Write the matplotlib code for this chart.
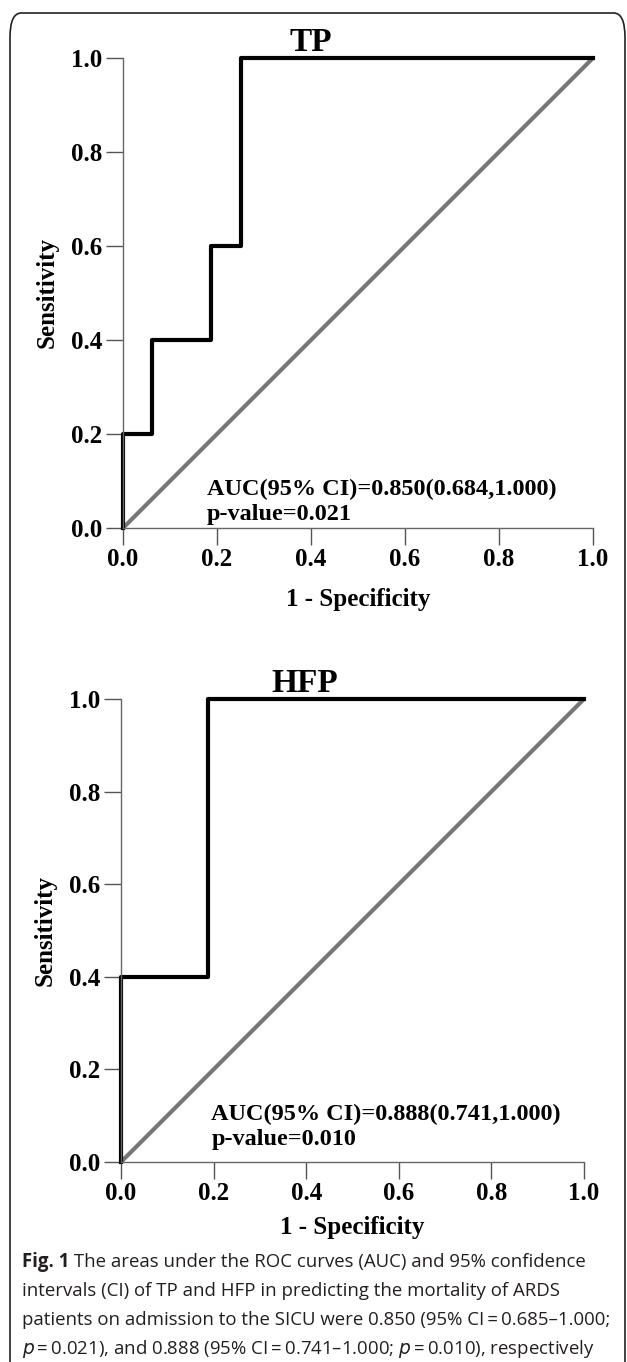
import matplotlib
matplotlib.use("Agg")
import matplotlib.pyplot as plt
from matplotlib.patches import FancyBboxPatch

# datos de las curvas ROC
tp_fpr = [0.0, 0.0, 0.0625, 0.0625, 0.1875, 0.1875, 0.25, 0.25, 1.0]
tp_tpr = [0.0, 0.2, 0.2, 0.4, 0.4, 0.6, 0.6, 1.0, 1.0]
hfp_fpr = [0.0, 0.0, 0.1875, 0.1875, 1.0]
hfp_tpr = [0.0, 0.4, 0.4, 1.0, 1.0]
ref_line = [0.0, 1.0]
ticks = [0.0, 0.2, 0.4, 0.6, 0.8, 1.0]
tick_labels = ["0.0", "0.2", "0.4", "0.6", "0.8", "1.0"]
titulos = ["TP", "HFP"]
auc_txt = ["AUC(95% CI)=0.850(0.684,1.000)", "AUC(95% CI)=0.888(0.741,1.000)"]
p_txt = ["p-value=0.021", "p-value=0.010"]

W, H = 627, 1362
fig = plt.figure(figsize=(W / 100, H / 100), dpi=100)

# marco redondeado
marco = FancyBboxPatch((10 / W, -0.05), 615 / W, 1.0 - 13 / H + 0.05,
                       boxstyle="round,pad=0,rounding_size=0.018",
                       transform=fig.transFigure, fill=False,
                       edgecolor="#222222", linewidth=1.2)
fig.patches.append(marco)

serif = "Liberation Serif"
# [izq, abajo, ancho, alto] en pixeles -> fraccion
posiciones_px = [(123, 528, 470, 470), (121, 1162, 463, 463)]
curvas = [(tp_fpr, tp_tpr), (hfp_fpr, hfp_tpr)]
titulo_x = [0.40, 0.396]
titulo_pad = [1, 0]
xlabel_pad = [12, 8]
texto_pos = [(0.179, 0.070, 0.017), (0.195, 0.090, 0.037)]

for i in range(2):
    l, b, w, h = posiciones_px[i]
    ax = fig.add_axes([l / W, 1 - b / H, w / W, h / H])
    ax.plot(ref_line, ref_line, color="#777777", linewidth=3, solid_capstyle="butt", clip_on=False)
    ax.plot(curvas[i][0], curvas[i][1], color="black", linewidth=3, clip_on=False)
    ax.set_xlim(0, 1)
    ax.set_ylim(0, 1)
    ax.spines["top"].set_visible(False)
    ax.spines["right"].set_visible(False)
    for s in ["left", "bottom"]:
        ax.spines[s].set_color("#666666")
        ax.spines[s].set_linewidth(1)
    ax.set_xticks(ticks)
    ax.set_yticks(ticks)
    ax.set_xticklabels(tick_labels, fontfamily=serif, fontweight="bold", fontsize=18)
    ax.set_yticklabels(tick_labels, fontfamily=serif, fontweight="bold", fontsize=18)
    ax.tick_params(axis="both", direction="out", color="#555555", width=1, length=12)
    ax.tick_params(axis="x", pad=2.5)
    ax.tick_params(axis="y", pad=3)
    ax.set_xlabel("1 - Specificity", fontfamily=serif, fontweight="bold", fontsize=18,
                  labelpad=xlabel_pad[i])
    ax.set_ylabel("Sensitivity", fontfamily=serif, fontweight="bold", fontsize=18, labelpad=9)
    ax.set_title(titulos[i], fontfamily=serif, fontweight="bold", fontsize=24,
                 x=titulo_x[i], pad=titulo_pad[i])
    tx, ty1, ty2 = texto_pos[i]
    ax.text(tx, ty1, auc_txt[i], fontfamily=serif, fontweight="bold", fontsize=17.5,
            transform=ax.transAxes, va="baseline")
    ax.text(tx, ty2, p_txt[i], fontfamily=serif, fontweight="bold", fontsize=17.5,
            transform=ax.transAxes, va="baseline")

# pie de figura
caption = [
    [("Fig. 1", "bold"), (" The areas under the ROC curves (AUC) and 95% confidence", "normal")],
    [("intervals (CI) of TP and HFP in predicting the mortality of ARDS", "normal")],
    [("patients on admission to the SICU were 0.850 (95% CI\u2009=\u20090.685\u20131.000;", "normal")],
    [("$p$\u2009=\u20090.021), and 0.888 (95% CI\u2009=\u20090.741\u20131.000; $p$\u2009=\u20090.010), respectively", "normal")],
]
y0 = 1262
for k, linea in enumerate(caption):
    x = 22 / W
    y = 1 - (y0 + k * 29) / H
    for txt, peso in linea:
        t = fig.text(x, y, txt, fontfamily="Open Sans", fontweight=peso, fontsize=13.4,
                     va="center", color="#231f20")
        fig.canvas.draw()
        bb = t.get_window_extent()
        x = bb.x1 / W

plt.savefig("out.png", dpi=100)
